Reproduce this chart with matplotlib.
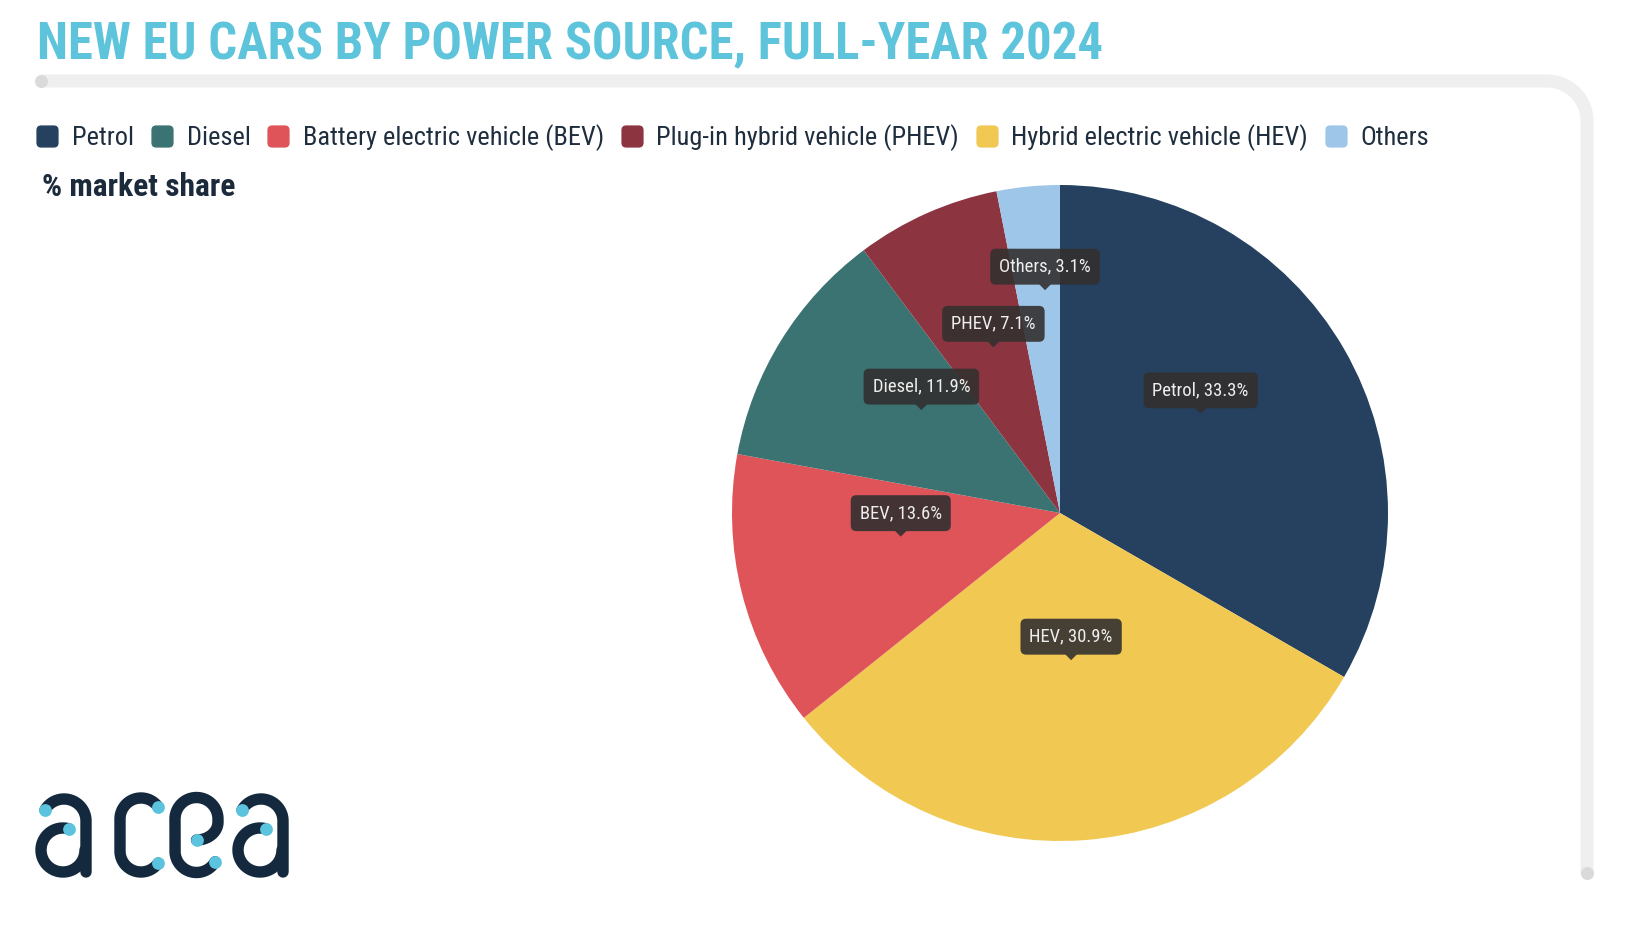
import numpy as np
import matplotlib.pyplot as plt
from matplotlib import font_manager as fm
from matplotlib.lines import Line2D
from matplotlib.patches import Polygon, FancyBboxPatch

W, H = 1626, 938


def have(name):
    try:
        fm.findfont(fm.FontProperties(family=name), fallback_to_default=False)
        return True
    except ValueError:
        return False


# narrow font if there is one, else shrink Roboto to the same widths
if have('Roboto Condensed'):
    NARROW, k = ['Roboto Condensed', 'DejaVu Sans'], 1.12
else:
    NARROW, k = ['Roboto', 'DejaVu Sans'], 1.0

# data
names = ['Petrol', 'Diesel', 'Battery electric vehicle (BEV)',
         'Plug-in hybrid vehicle (PHEV)', 'Hybrid electric vehicle (HEV)', 'Others']
short = ['Petrol', 'Diesel', 'BEV', 'PHEV', 'HEV', 'Others']
shares = [33.3, 11.9, 13.6, 7.1, 30.9, 3.1]
colors = ['#25415f', '#3b7372', '#de5459', '#8d3441', '#f1c852', '#9dc6e8']
pie_order = [0, 4, 2, 1, 3, 5]   # clockwise from 12 o'clock

# label placement per pie slice: radius fraction, angle nudge (deg), y nudge (px)
lab_frac = [0.53, 0.45, 0.49, 0.53, 0.55, 0.69]
lab_nudge = [6, 0, -6.4, -5.3, -2.3, -1.8]
lab_dy = [-3, 0, -2, -2, -2, -3]

fig = plt.figure(figsize=(W / 100, H / 100), dpi=100)
ax = fig.add_axes([0, 0, 1, 1])


def Y(y):
    return H - np.asarray(y)


# pie
cx, cy, R = 1060, 513, 328
wedges, _ = ax.pie([shares[i] for i in pie_order],
                   colors=[colors[i] for i in pie_order],
                   startangle=90, counterclock=False,
                   center=(cx, Y(cy)), radius=R,
                   wedgeprops=dict(linewidth=0))

box_c = '#333030'
for j, (w, i) in enumerate(zip(wedges, pie_order)):
    a = np.radians((w.theta1 + w.theta2) / 2 + lab_nudge[j])
    tx = cx + lab_frac[j] * R * np.cos(a)
    ty = Y(cy) + lab_frac[j] * R * np.sin(a) + lab_dy[j]
    ax.add_patch(Polygon([(tx - 6, ty + 6), (tx + 6, ty + 6), (tx, ty)],
                         closed=True, fc=box_c, ec='none', alpha=0.9, zorder=5))
    ax.text(tx, ty + 23.5, f'{short[i]}, {shares[i]}%', ha='center', va='center',
            fontsize=12 * k, color='#eeeeee', family=NARROW, zorder=6,
            bbox=dict(boxstyle='round,pad=0.48,rounding_size=0.3',
                      fc=box_c, ec='none', alpha=0.9))

# grey frame line
t = np.linspace(90, 0, 30)
fx = np.concatenate([[41, 1547], 1547 + 40 * np.cos(np.radians(t)), [1587, 1587]])
fy = np.concatenate([[81, 81], 121 - 40 * np.sin(np.radians(t)), [121, 873]])
ax.plot(fx, Y(fy), color='#efefef', lw=9.4, solid_capstyle='butt', zorder=1)
ax.plot([41, 1587], Y([81, 873]), 'o', color='#dadada', ms=9.4, mec='none', zorder=2)

# title and subtitle
ax.text(37, Y(59), 'NEW EU CARS BY POWER SOURCE, FULL-YEAR 2024', fontsize=32.6 * k,
        fontweight='bold', color='#5ec4db', family=NARROW, va='baseline')
ax.text(42, Y(187), '% market share', fontsize=22.7, fontweight='bold',
        color='#1b2b3c', family=NARROW, va='center')

# legend with rounded square keys
rsq = FancyBboxPatch((-0.5, -0.5), 1, 1,
                     boxstyle='round,pad=0,rounding_size=0.2').get_path()
handles = [Line2D([], [], marker=rsq, ls='', ms=15, mfc=c, mec=c) for c in colors]
fig.legend(handles, names, loc='center left', bbox_to_anchor=(37 / W, 1 - 138 / H),
           ncol=6, frameon=False, handlelength=0.78, handletextpad=0.55,
           columnspacing=0.65, borderpad=0, borderaxespad=0,
           prop=dict(family=NARROW, size=17 * k), labelcolor='#1f2e3f')

# acea logo
navy, cyan = '#14293d', '#5bc3dd'


def arc(x0, y0, rx, ry, t0, t1):
    tt = np.radians(np.linspace(t0, t1, 60))
    return x0 + rx * np.cos(tt), y0 - ry * np.sin(tt)


strokes, dots = [], []
for dx in [0, 197]:
    hx, hy = arc(64 + dx, 821, 22, 22, 150, 0)
    strokes.append((np.append(hx, 86 + dx), np.append(hy, 872)))
    bx, by = arc(63 + dx, 850, 22, 22, 75, 360)
    strokes.append((bx, by))
    dots += [(hx[0], hy[0]), (bx[0], by[0])]
cx1, cy1 = arc(141, 819, 21, 21, 35, 180)
cx2, cy2 = arc(141, 851, 21, 21, 180, 325)
strokes.append((np.concatenate([cx1, cx2]), np.concatenate([cy1, cy2])))
dots += [(cx1[0], cy1[0]), (cx2[-1], cy2[-1])]
ex0, ey0 = arc(196.5, 822, 21.5, 18, -90, 0)
ex1, ey1 = arc(196.5, 819, 21.5, 21.5, 0, 180)
ex2, ey2 = arc(196.5, 851, 21.5, 21.5, 180, 330)
strokes.append((np.concatenate([ex0, ex1, ex2]), np.concatenate([ey0, ey1, ey2])))
dots += [(ex0[0], ey0[0]), (ex2[-1], ey2[-1])]
for sx, sy in strokes:
    ax.plot(sx, Y(sy), color=navy, lw=8.2, solid_capstyle='round', solid_joinstyle='round')
for px, py in dots:
    ax.plot(px, Y(py), 'o', color=cyan, ms=9.2, mec='none')

ax.set_xlim(0, W)
ax.set_ylim(0, H)
ax.axis('off')
fig.savefig('out.png', dpi=100, facecolor='white')
